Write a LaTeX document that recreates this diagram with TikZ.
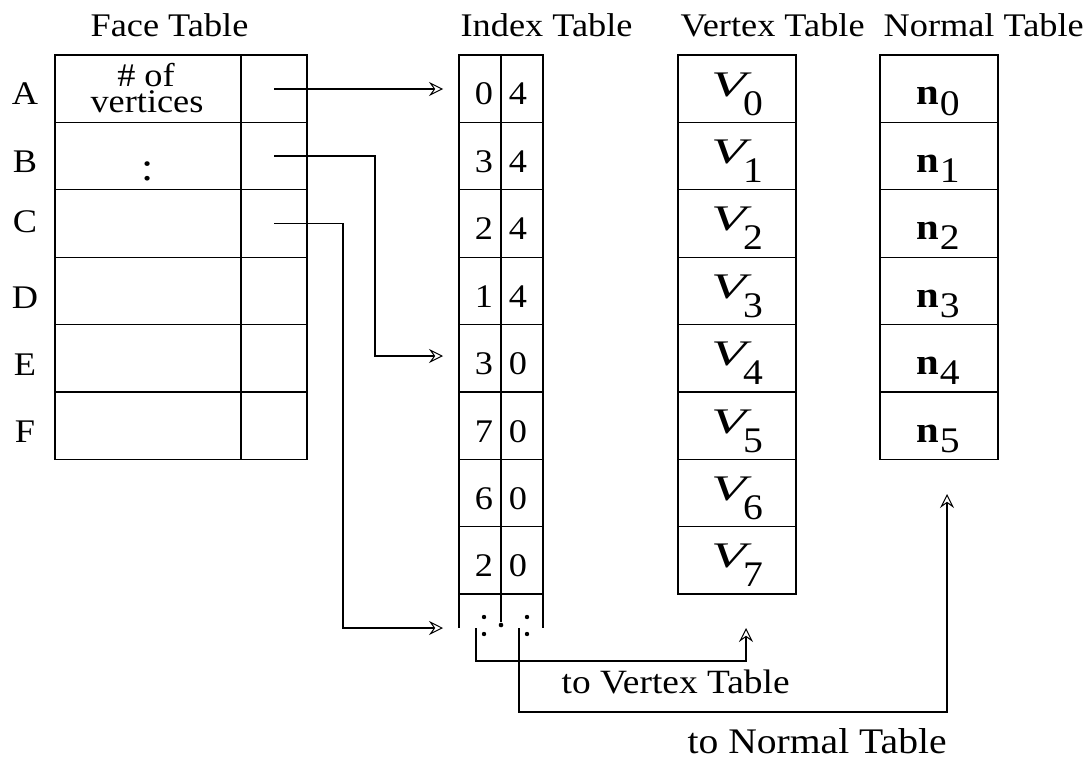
\documentclass[tikz,border=0pt]{standalone}
\usepackage{fontspec}
\setmainfont[FakeStretch=1.1]{Liberation Serif}
\usetikzlibrary{arrows.meta}
\begin{document}
\begin{tikzpicture}[x=1pt,y=-1pt,line width=1.3pt,
  txt/.style={inner sep=0pt,font=\fontsize{33}{33}\selectfont},
  arr/.style={-{Stealth[open,length=14pt,width=14pt,inset=5pt,line width=1pt]}},
  dotp/.style={fill=black,draw=none}]
\useasboundingbox (0,0) rectangle (1091,757);
% titles
\node[txt,anchor=base west] (tf) at (90,37) {Face Table};
\node[txt,anchor=base west] (ti) at (460,37) {Index Table};
\node[txt,anchor=base west] (tv) at (680,37) {Vertex Table};
\node[txt,anchor=base west] (tn) at (883,37) {Normal Table};
% face table
\draw (55,55) rectangle (307,459.4);
\foreach \i in {1,...,5} \draw (55,55+67.4*\i) -- (307,55+67.4*\i);
\draw (241,55) -- (241,459.4);
\node[txt,anchor=base] (lA) at (25,105) {A};
\node[txt,anchor=base] (lB) at (25,172) {B};
\node[txt,anchor=base] (lC) at (25,232) {C};
\node[txt,anchor=base] (lD) at (25,308) {D};
\node[txt,anchor=base] (lE) at (25,375) {E};
\node[txt,anchor=base] (lF) at (25,442) {F};
\node[txt,anchor=base] (nof) at (146,87) {\# of};
\node[txt,anchor=base] (nvert) at (147,113) {vertices};
\node[txt,anchor=base,font=\fontsize{40}{40}\selectfont] (colon) at (148,180.5) {:};
% index table
\draw (459,55) rectangle (543,594);
\foreach \i in {1,...,7} \draw (459,55+67.4*\i) -- (543,55+67.4*\i);
\draw (501,55) -- (501,622);
\draw (459,594) -- (459,628);
\draw (543,594) -- (543,628);
\fill[dotp] (501,625) circle (2.3);
\foreach \x in {484,527} {\fill[dotp] (\x,617) circle (2.2); \fill[dotp] (\x,634) circle (2.2);}
\foreach \a/\b [count=\i from 0] in {0/4,3/4,2/4,1/4,3/0,7/0,6/0,2/0} {
  \node[txt,anchor=base] (il\i) at (484,105+67.4*\i) {\a};
  \node[txt,anchor=base] (ir\i) at (518,105+67.4*\i) {\b};
}
% vertex table
\draw (678,55) rectangle (796,594);
\foreach \i in {1,...,7} \draw (678,55+67.4*\i) -- (796,55+67.4*\i);
\foreach \i in {0,...,7}
  \node[txt,anchor=base] (v\i) at (737,96+67.4*\i) {{\fontsize{36}{36}\selectfont\scalebox{1.45}[1]{\itshape V}}\kern-3pt\raisebox{-19pt}{\fontsize{36}{36}\selectfont\i}};
% normal table
\draw (880,55) rectangle (998,459.4);
\foreach \i in {1,...,5} \draw (880,55+67.4*\i) -- (998,55+67.4*\i);
\foreach \i in {0,...,5}
  \node[txt,anchor=base] (n\i) at (938,105+67.4*\i) {{\fontsize{37}{37}\selectfont\bfseries n}\kern1pt\raisebox{-10pt}{\fontsize{36}{36}\selectfont\i}};
% connectors
\coordinate (fA) at (274,89);
\coordinate (iA) at (443,89);
\coordinate (fB) at (274,156);
\coordinate (iB) at (443,356);
\coordinate (fC) at (274,223.5);
\coordinate (iC) at (443,628);
\draw[arr] (fA) -- (iA);
\draw[arr] (fB) -- ++(101,0) |- (iB);
\draw[arr] (fC) -- ++(69,0) |- (iC);
\coordinate (vs) at (476,628);
\coordinate (ve) at (746,628);
\coordinate (ns) at (519,628);
\coordinate (ne) at (947,494);
\draw[arr] (vs) -- ++(0,33) -| (ve);
\draw[arr] (ns) -- ++(0,84) -| (ne);
\node[txt,anchor=base west,font=\fontsize{34}{34}\selectfont] (tov) at (561,693) {to Vertex Table};
\node[txt,anchor=base west,font=\fontsize{36}{36}\selectfont] (ton) at (687,753) {to Normal Table};
\end{tikzpicture}
\end{document}
